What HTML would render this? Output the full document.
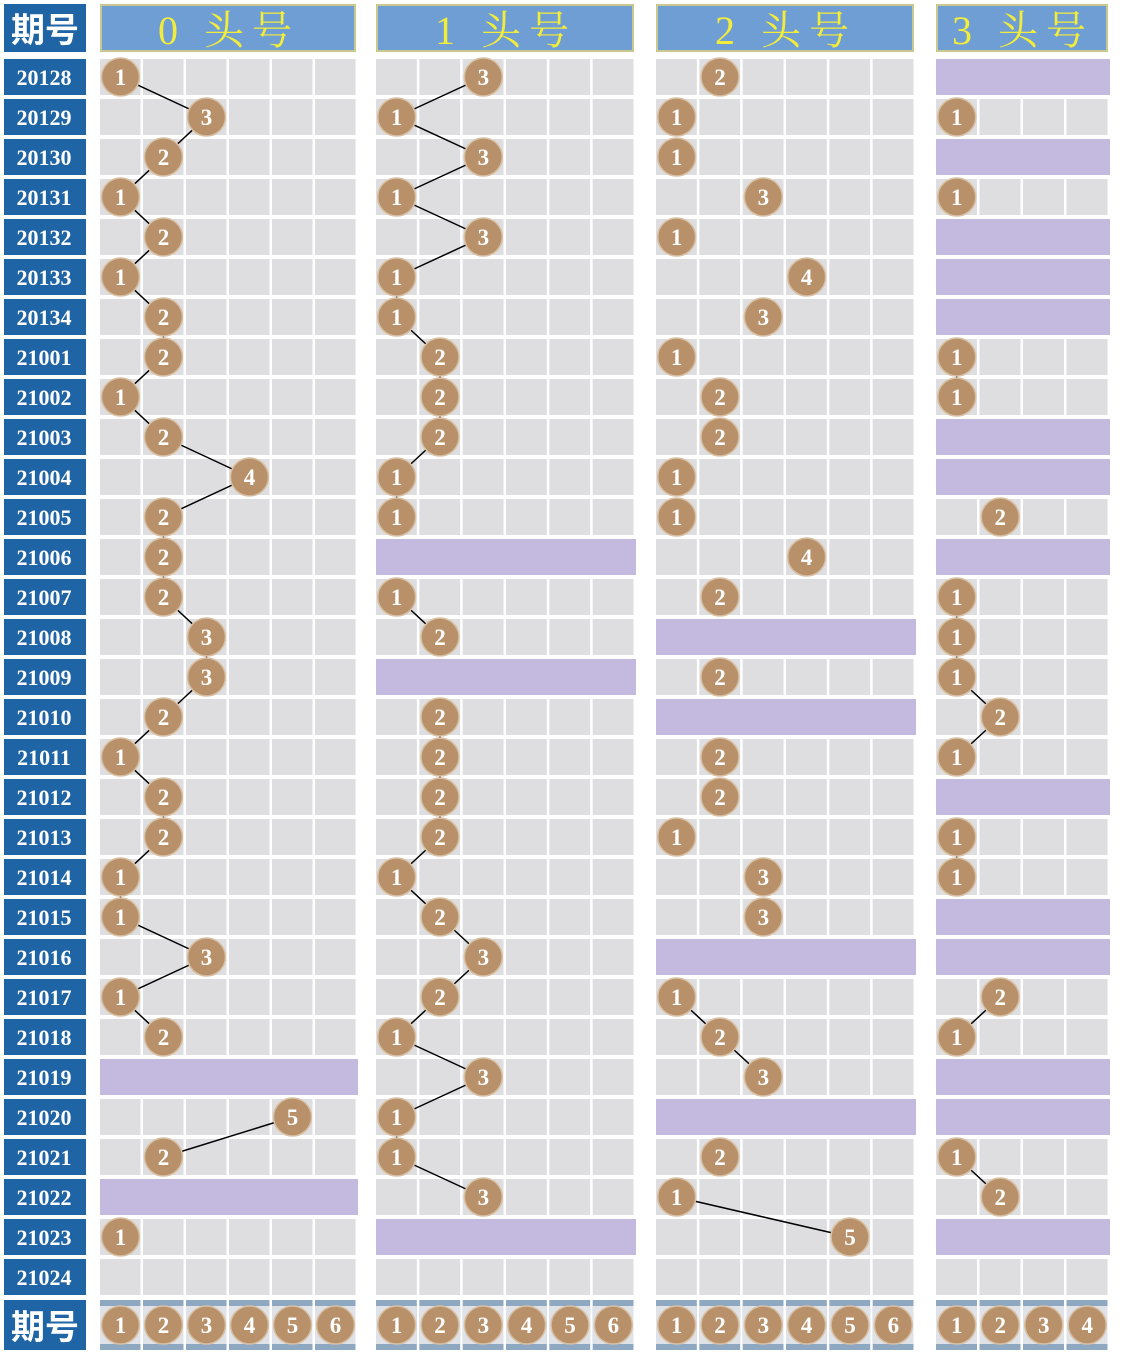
<!DOCTYPE html>
<html><head><meta charset="utf-8"><style>
html,body{margin:0;padding:0;background:#fff;}
svg{display:block;}
</style></head><body>
<svg id="chart" width="1122" height="1354" xmlns="http://www.w3.org/2000/svg"></svg>
<script>
const periods=["20128","20129","20130","20131","20132","20133","20134","21001","21002","21003","21004","21005","21006","21007","21008","21009","21010","21011","21012","21013","21014","21015","21016","21017","21018","21019","21020","21021","21022","21023","21024"];
const headTitles=["0 头号","1 头号","2 头号","3 头号"];
const panel0=[1,3,2,1,2,1,2,2,1,2,4,2,2,2,3,3,2,1,2,2,1,1,3,1,2,null,5,2,null,1,0];
const panel1=[3,1,3,1,3,1,1,2,2,2,1,1,null,1,2,null,2,2,2,2,1,2,3,2,1,3,1,1,3,null,0];
const panel2=[2,1,1,3,1,4,3,1,2,2,1,1,4,2,null,2,null,2,2,1,3,3,null,1,2,3,null,2,1,5,0];
const panel3=[null,1,null,1,null,null,null,1,1,null,null,2,null,1,1,1,2,1,null,1,1,null,null,2,1,null,null,1,2,null,0];
const links2=[23,24,28];
const links3=[7,13,14,15,16,19,23,27];
const panelData=[panel0,panel1,panel2,panel3];
const panelLinks=[null,null,links2,links3];
const panelX=[100,376,656,936];
const panelW=[258,260,260,174];
const panelCols=[6,6,6,4];

const svg=document.getElementById('chart');
const NS='http://www.w3.org/2000/svg';
function mk(tag,attrs,parent){const e=document.createElementNS(NS,tag);for(const k in attrs)e.setAttribute(k,attrs[k]);(parent||svg).appendChild(e);return e;}
const rowY=i=>58+40*i;
const rowC=i=>77+40*i;
function colC(p,v){const w=panelW[p]/panelCols[p];return panelX[p]+w*(v-1)+w/2-1;}
function circle(cx,cy,n,name){
  const g=mk('g',{});
  
  
  mk('circle',{cx:cx,cy:cy,r:19,fill:'#b8916a',stroke:'#d8c0a4','stroke-width':1.5},g);
  const t=mk('text',{x:cx,y:cy+8,'text-anchor':'middle','font-family':'Liberation Serif, serif','font-weight':'bold','font-size':23,fill:'#fff'},g);
  t.textContent=n;
}
// label column header
let lg=mk('g',{});


mk('rect',{x:4,y:4,width:82,height:48,fill:'#1f64a4'},lg);
let lt=mk('text',{x:45,y:42,'text-anchor':'middle','font-family':'Liberation Sans, Noto Sans CJK SC, sans-serif','font-weight':'bold','font-size':34,fill:'#fff'},lg);
lt.textContent='期号';
lg=mk('g',{});


mk('rect',{x:4,y:1300,width:82,height:50,fill:'#1f64a4'},lg);
lt=mk('text',{x:45,y:1339,'text-anchor':'middle','font-family':'Liberation Sans, Noto Sans CJK SC, sans-serif','font-weight':'bold','font-size':34,fill:'#fff'},lg);
lt.textContent='期号';
periods.forEach((p,i)=>{
  const g=mk('g',{});
  
  
  mk('rect',{x:4,y:rowY(i)+1,width:82,height:36,fill:'#1f64a4'},g);
  const t=mk('text',{x:44,y:rowC(i)+8,'text-anchor':'middle','font-family':'Liberation Serif, serif','font-weight':'bold','font-size':22,fill:'#fff'},g);
  t.textContent=p;
});
panelData.forEach((data,p)=>{
  const x0=panelX[p],W=panelW[p],nc=panelCols[p],cw=W/nc;
  const hg=mk('g',{});
  
  
  mk('rect',{x:x0+1,y:5,width:W-4,height:46,fill:'#6f9ed4',stroke:'#c8c890','stroke-width':2},hg);
  const ht=mk('text',{x:x0+W/2,y:44,'text-anchor':'middle','font-family':'Liberation Serif, Noto Serif CJK SC, serif','font-size':40,fill:'#f2ec3a','letter-spacing':8},hg);
  ht.textContent=headTitles[p];
  // cells
  data.forEach((v,i)=>{
    if(v===null){
      const r=mk('rect',{x:x0,y:rowY(i)+1,width:W,height:36,fill:'#c4bae0'});
      
      
    } else {
      for(let c=0;c<nc;c++){
        mk('rect',{x:x0+c*cw,y:rowY(i)+1,width:cw-2.5,height:36,fill:'#dedde0'});
      }
    }
  });
  // footer
  for(let c=0;c<nc;c++){
    const fx=x0+c*cw;
    mk('rect',{x:fx,y:1300,width:cw-2.5,height:50,fill:'#8fa8c2'});
    mk('rect',{x:fx,y:1306,width:cw-2.5,height:38,fill:'#dfe3e8'});
    circle(fx+cw/2-1,1325,c+1,'footer-ball');
  }
  // lines
  const links=panelLinks[p];
  for(let i=0;i<data.length-1;i++){
    const a=data[i],b=data[i+1];
    if(!a||!b)continue;
    if(links&&links.indexOf(i)<0)continue;
    const l=mk('line',{x1:colC(p,a),y1:rowC(i),x2:colC(p,b),y2:rowC(i+1),stroke:'#000','stroke-width':1.5});
    
    
  }
  data.forEach((v,i)=>{ if(v) circle(colC(p,v),rowC(i),v,'ball'); });
});
</script>
</body></html>
